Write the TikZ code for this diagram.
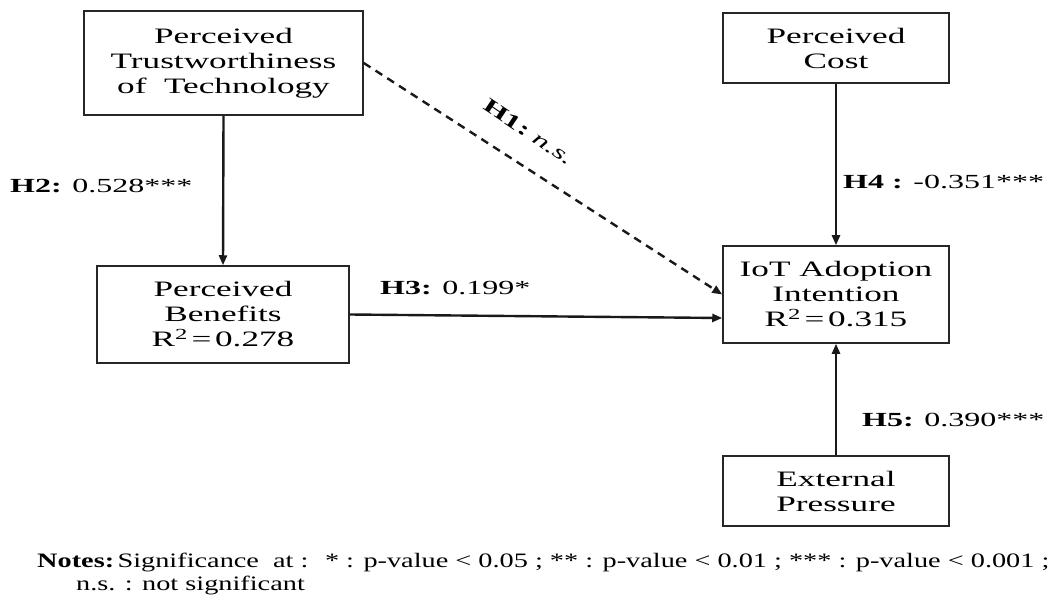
\documentclass[tikz,border=0pt]{standalone}
\usepackage{fontspec}
\setmainfont{Liberation Serif}[FakeStretch=1.6]
\newfontfamily\notefont{Liberation Serif}[FakeStretch=1.38]
\usetikzlibrary{arrows.meta,calc}
\begin{document}
\begin{tikzpicture}[x=1pt,y=-1pt,
  box/.style={draw=black!85,line width=1.5pt,align=center,inner sep=0pt,
    font=\fontsize{22}{25}\selectfont,text=black},
  link/.style={draw=black!90,line width=2.4pt,-{Triangle[length=10pt,width=8pt]}},
  dlink/.style={link,dash pattern=on 8pt off 6pt},
  lbl/.style={font=\fontsize{20}{24}\selectfont,anchor=west,inner sep=0pt,text=black},
  note/.style={font=\notefont\fontsize{20.5}{23}\selectfont,anchor=west,inner sep=0pt,text=black}]
\useasboundingbox (0,0) rectangle (1054,601);
\fill[white] (0,0) rectangle (1054,601);
% boxes
\node[box,minimum width=279pt,minimum height=104pt] (ptt) at (223.5,63) {Perceived\\Trustworthiness\\of~ Technology};
\node[box,minimum width=252pt,minimum height=97pt] (pb) at (223,314.5) {Perceived\\Benefits\\R\textsuperscript{2}\,=\,0.278};
\node[box,minimum width=226pt,minimum height=70pt] (cost) at (836,48) {Perceived\\Cost};
\node[box,minimum width=226pt,minimum height=97pt] (iot) at (836,294.5) {IoT Adoption\\Intention\\R\textsuperscript{2}\,=\,0.315};
\node[box,minimum width=226pt,minimum height=70pt] (ext) at (836,491) {External\\Pressure};
% connectors
\draw[link] (ptt.south) -- (pb.north);
\draw[dlink] (ptt.east) -- (iot.west);
\draw[link] (pb.east) -- ($(iot.west)+(0,23.5)$);
\draw[link] (cost.south) -- (iot.north);
\draw[link] (ext.north) -- (iot.south);
% labels
\node[lbl] (h2) at (10,186) {\textbf{H2:} 0.528***};
\node[lbl,anchor=center,rotate=-34] (h1) at (529,132) {\textbf{H1:}~\textit{n.s.}};
\node[lbl] (h3) at (380,288) {\textbf{H3:} 0.199*};
\node[lbl] (h4) at (843,182) {\textbf{H4 :} -0.351***};
\node[lbl] (h5) at (862,420) {\textbf{H5:} 0.390***};
% notes
\node[note] (n1) at (37,562) {\textbf{Notes:}\,Significance~ at :~ * : p-value < 0.05 ; ** : p-value < 0.01 ; *** : p-value < 0.001 ;};
\node[note] (n2) at (76,585) {n.s. : not significant};
\end{tikzpicture}
\end{document}
